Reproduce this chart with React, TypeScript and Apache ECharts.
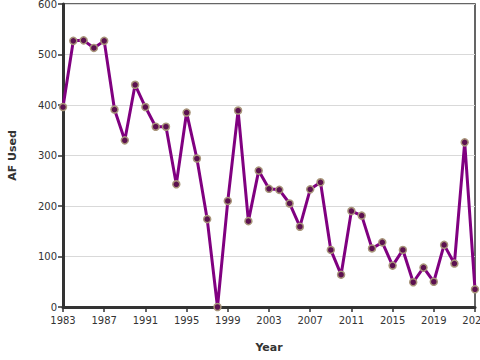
import React, { useEffect, useRef } from "react";
import * as echarts from "echarts";

const years: string[] = [];
for (let y = 1983; y <= 2023; y++) years.push(String(y));

const afUsed = [
  396, 527, 528, 513, 527, 391, 330, 440, 396, 357,
  357, 243, 385, 294, 174, 0, 210, 389, 170, 270,
  234, 232, 205, 159, 233, 247, 113, 64, 190, 181,
  116, 128, 82, 113, 49, 78, 50, 123, 86, 326,
  35,
];

const xAxisName = "Year";
const yAxisName = "AF Used";

export default function App() {
  const ref = useRef<HTMLDivElement>(null);
  useEffect(() => {
    if (!ref.current) return;
    const chart = echarts.init(ref.current, null, { renderer: "svg" });
    const font = "DejaVu Sans, Verdana, sans-serif";
    chart.setOption({
      animation: false,
      grid: {
        left: 63,
        right: 5,
        top: 4,
        bottom: 53,
        containLabel: false,
        outerBoundsMode: "none",
        show: true,
        borderColor: "#333",
        borderWidth: 1.5,
        backgroundColor: "transparent",
      },
      xAxis: {
        type: "category",
        data: years,
        boundaryGap: false,
        name: xAxisName,
        nameLocation: "middle",
        nameGap: 35,
        nameTextStyle: { fontFamily: font, fontSize: 11, fontWeight: "bold", color: "#333" },
        axisLine: { lineStyle: { color: "#333", width: 3 } },
        axisTick: { show: true, interval: 3, length: 5, lineStyle: { color: "#333", width: 1.5 } },
        axisLabel: { interval: 3, fontFamily: font, fontSize: 10, color: "#333", margin: 8, hideOverlap: false },
        splitLine: { show: false },
      },
      yAxis: {
        type: "value",
        min: 0,
        max: 600,
        interval: 100,
        name: yAxisName,
        nameLocation: "middle",
        nameGap: 45,
        nameTextStyle: { fontFamily: font, fontSize: 11, fontWeight: "bold", color: "#333" },
        axisLine: { show: true, lineStyle: { color: "#333", width: 3 } },
        axisTick: { show: true, length: 5, lineStyle: { color: "#333", width: 1.5 } },
        axisLabel: { fontFamily: font, fontSize: 10, color: "#333", margin: 6 },
        splitLine: { show: true, lineStyle: { color: "#d9d9d9", width: 1 } },
      },
      series: [
        {
          type: "line",
          data: afUsed,
          symbol: "circle",
          symbolSize: 7,
          showAllSymbol: true,
          clip: false,
          lineStyle: { color: "#800080", width: 3 },
          itemStyle: { color: "#5c1150", borderColor: "#a8957a", borderWidth: 1.5 },
          z: 3,
        },
      ],
    });
    return () => chart.dispose();
  }, []);
  return (
    <div
      ref={ref}
      style={{ position: "fixed", left: 0, top: 0, width: 480, height: 360, background: "#fff" }}
    />
  );
}
